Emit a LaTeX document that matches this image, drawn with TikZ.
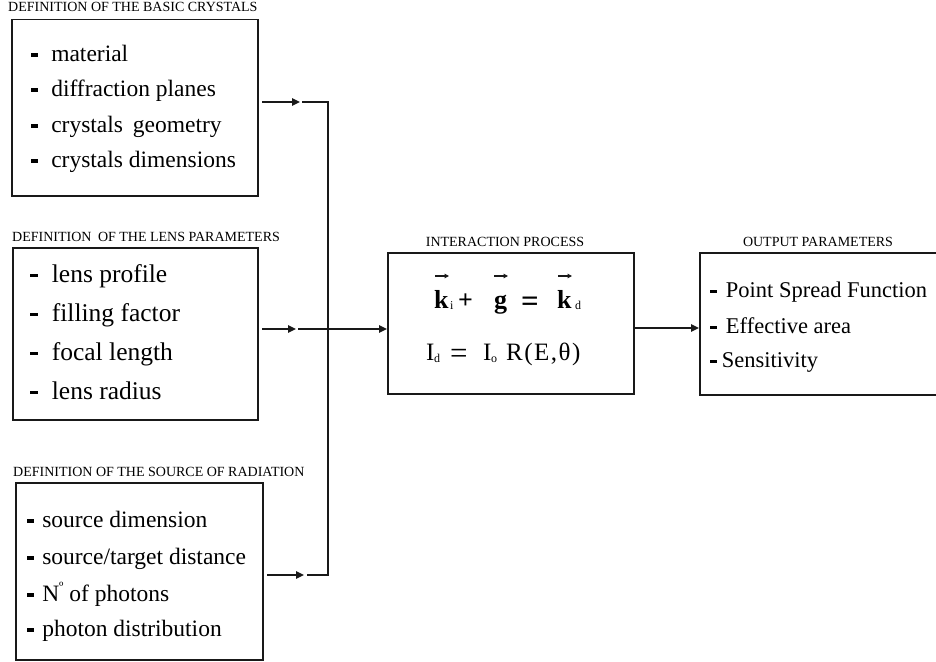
\documentclass[tikz,border=0pt]{standalone}
\usepackage{fontspec}
\setmainfont{Liberation Serif}
\usetikzlibrary{arrows.meta}
\newcommand\dsh[1]{\rule[0.19em]{0.3em}{0.14em}\hspace{#1}}
\newcommand\fs[1]{\fontsize{#1}{#1}\selectfont}
\tikzset{
  boxst/.style={draw=black!90, line width=1.5pt, inner sep=0pt, anchor=north west},
  lbl/.style={inner sep=0pt, font=\fs{14}},
  itA/.style={inner sep=0pt, anchor=base west, font=\fs{23.5}},
  itB/.style={inner sep=0pt, anchor=base west, font=\fs{25.5}},
  itC/.style={inner sep=0pt, anchor=base west, font=\fs{23.5}},
  itD/.style={inner sep=0pt, anchor=base west, font=\fs{22.5}},
  eqb/.style={inner sep=0pt, anchor=base west, font=\fs{26}\bfseries},
  eqr/.style={inner sep=0pt, anchor=base west, font=\fs{25}},
  sub/.style={inner sep=0pt, anchor=base west, font=\fs{12}},
  ln/.style={draw=black!90, line width=1.5pt},
  arr/.style={ln, -{Triangle[length=8pt,width=7.5pt]}},
  vecarr/.style={draw=black!90, line width=1.2pt, -{Triangle[length=4.5pt,width=4.5pt]}},
}
\begin{document}
\begin{tikzpicture}[x=1pt,y=-1pt]
\useasboundingbox (0,0) rectangle (936,661);
\clip (0,0) rectangle (936,661);
% boxes
\node[boxst, minimum width=246pt, minimum height=176pt] (crys) at (11,19) {};
\node[boxst, minimum width=245pt, minimum height=172pt] (lens) at (12,247) {};
\node[boxst, minimum width=247pt, minimum height=177pt] (src) at (15,482) {};
\node[boxst, minimum width=246pt, minimum height=141pt] (inter) at (387,252) {};
\node[boxst, minimum width=260pt, minimum height=142pt] (outp) at (699,252) {};
% labels
\node[lbl, anchor=base west] (l1) at (8,12) {DEFINITION OF THE BASIC CRYSTALS};
\node[lbl, anchor=base west] (l2) at (12,241) {DEFINITION\hspace{3pt} OF THE LENS PARAMETERS};
\node[lbl, anchor=base west] (l5) at (13,476) {DEFINITION OF THE SOURCE OF RADIATION};
\node[lbl, anchor=base] (l3) at (505,246) {INTERACTION PROCESS};
\node[lbl, anchor=base] (l4) at (818,246) {OUTPUT PARAMETERS};
% box 1 items
\node[itA] (c1) at (31,61) {\dsh{13pt}material};
\node[itA] (c2) at (31,96) {\dsh{13pt}diffraction planes};
\node[itA] (c3) at (31,132) {\dsh{13pt}crystals\hspace{4pt} geometry};
\node[itA] (c4) at (31,167) {\dsh{13pt}crystals dimensions};
% box 2 items
\node[itB] (p1) at (30,282) {\dsh{14pt}lens profile};
\node[itB] (p2) at (30,321) {\dsh{14pt}filling factor};
\node[itB] (p3) at (30,360) {\dsh{14pt}focal length};
\node[itB] (p4) at (30,399) {\dsh{14pt}lens radius};
% box 5 items
\node[itC] (s1) at (27,527) {\dsh{8pt}source dimension};
\node[itC] (s2) at (27,564) {\dsh{8pt}source/target distance};
\node[itC] (s3) at (27,601) {\dsh{8pt}N\raisebox{0.4em}{\fs{14}º} of photons};
\node[itC] (s4) at (27,636) {\dsh{8pt}photon distribution};
% output items
\node[itD] (o1) at (710,297) {\dsh{9pt}Point Spread Function};
\node[itD] (o2) at (710,333) {\dsh{9pt}Effective area};
\node[itD] (o3) at (710,367) {\dsh{5pt}Sensitivity};
% equation line 1
\node[eqb] (k1) at (434,308) {k};
\node[sub] (k1s) at (450,309) {i};
\node[eqb] (pl) at (458,308) {+};
\node[eqb] (gv) at (494,308) {g};
\node[eqb, font=\fs{31}\bfseries] (eq1) at (521,311) {=};
\node[eqb] (k2) at (557,308) {k};
\node[sub] (k2s) at (575,309) {d};
\draw[vecarr] ([shift={(1,-32)}]k1.base west) -- ([shift={(15,-32)}]k1.base west);
\draw[vecarr] ([shift={(0,-32)}]gv.base west) -- ([shift={(14,-32)}]gv.base west);
\draw[vecarr] ([shift={(1,-32)}]k2.base west) -- ([shift={(15,-32)}]k2.base west);
% equation line 2
\node[eqr] (id) at (426,360) {I};
\node[sub] (ids) at (434,362) {d};
\node[eqr, font=\fs{31}] (eq2) at (450,363) {=};
\node[eqr] (io) at (483,360) {I};
\node[sub] (ios) at (491,362) {o};
\node[eqr] (rr) at (506,360) {R\kern1.5pt(\kern1.5pt E\kern1.5pt,\kern1.5pt θ\kern1.5pt)};
% connectors
\coordinate (a1) at (262,102);
\coordinate (a1e) at (300,102);
\coordinate (j1) at (302,102);
\coordinate (bus1) at (328,102);
\coordinate (a2) at (262,329);
\coordinate (a2e) at (296,329);
\coordinate (j2) at (298,329);
\coordinate (a5) at (267,575);
\coordinate (a5e) at (304,575);
\coordinate (j5) at (307,575);
\coordinate (bus5) at (328,575);
\coordinate (a3) at (633,328);
\draw[arr] (a1) -- (a1e);
\draw[arr] (a2) -- (a2e);
\draw[arr] (a5) -- (a5e);
\draw[ln] (j1) -- (bus1) -- (bus5) -- (j5);
\draw[arr] (j2) -- (j2 -| inter.west);
\draw[arr] (a3) -- (a3 -| outp.west);
\end{tikzpicture}
\end{document}
